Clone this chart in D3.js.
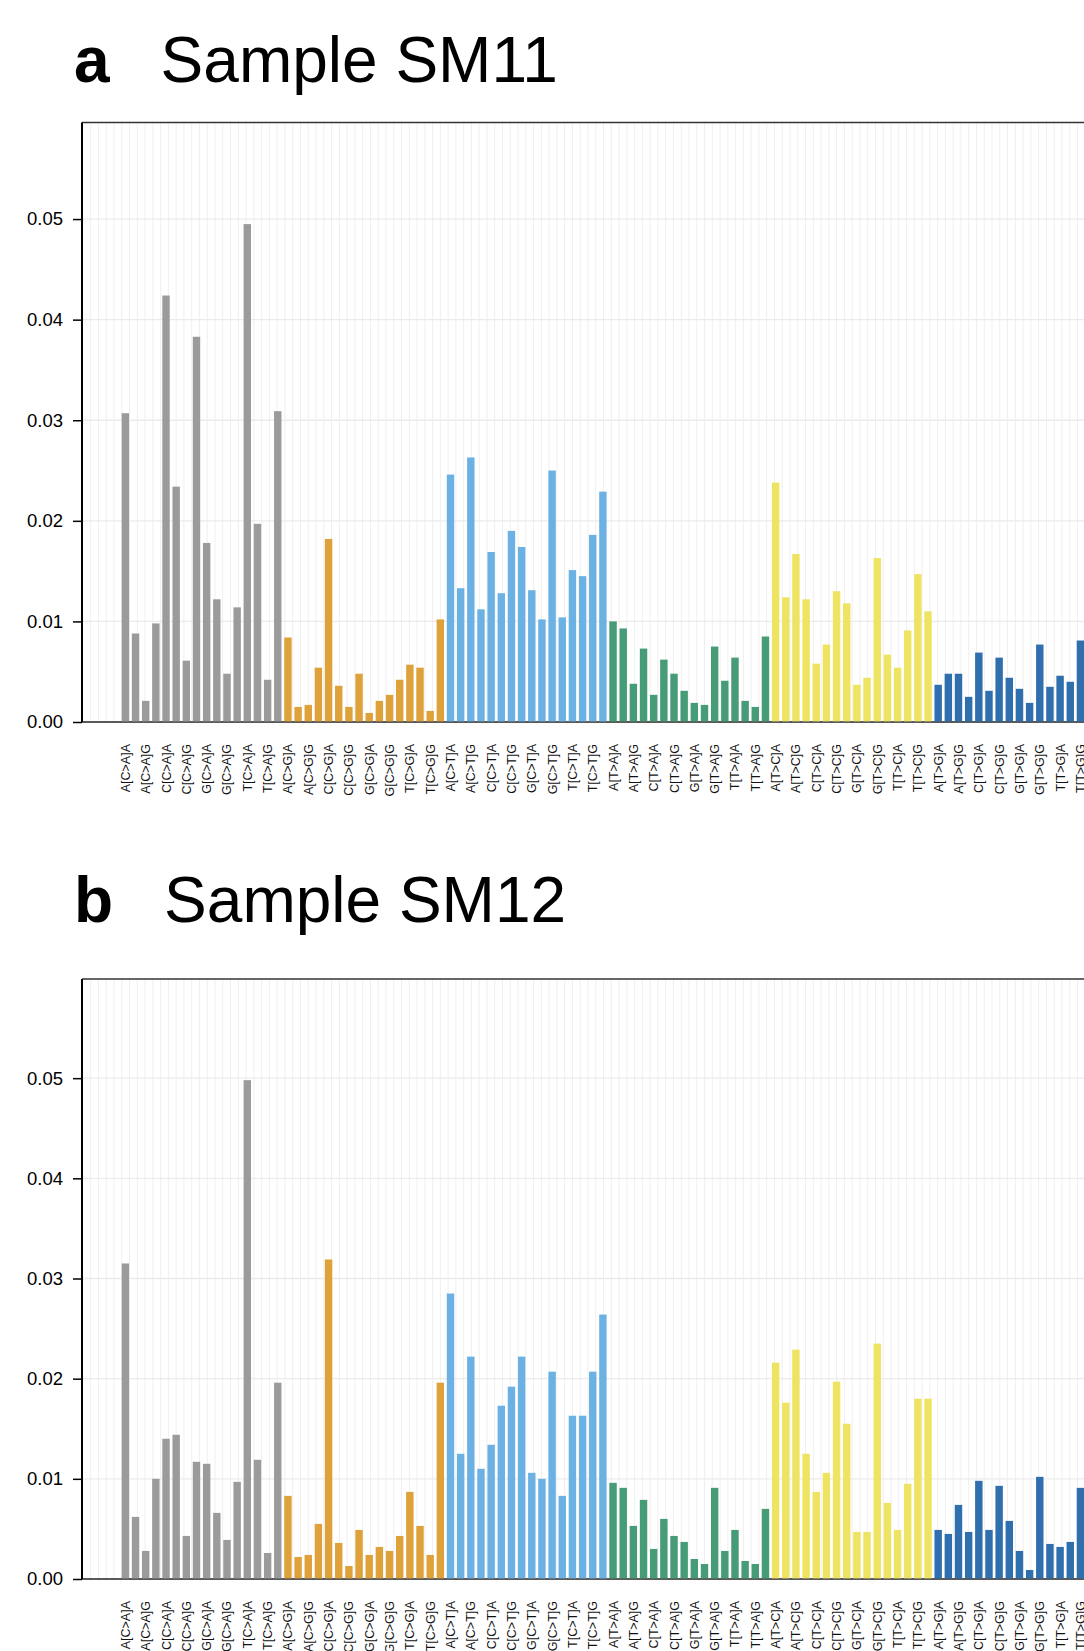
<!DOCTYPE html>
<html>
<head>
<meta charset="utf-8">
<script src="https://cdn.jsdelivr.net/npm/d3@7"></script>
<style>
  body { margin: 0; overflow: hidden; background: #fff; }
  text { font-family: "Liberation Sans", Arial, Helvetica, sans-serif; }
</style>
</head>
<body>
<svg id="chart" width="1084" height="1651"></svg>
<script>
// ---------- data ----------
const mutationTypes = ["C>A", "C>G", "C>T", "T>A", "T>C", "T>G"];
const bases = ["A", "C", "G", "T"];
const typeColors = ["#9b9b9b", "#dfa23a", "#6bb1e3", "#469c76", "#eee462", "#2f6fae"];
const categories = [];
mutationTypes.forEach(m => bases.forEach(b5 => bases.forEach(b3 => categories.push(`${b5}[${m}]${b3}`))));

const yTickValues = [0.00, 0.01, 0.02, 0.03, 0.04, 0.05];

const sm11 = [
  0.0307,0.0088,0.0021,0.0098,0.0424,0.0234,0.0061,0.0383,0.0178,0.0122,0.0048,0.0114,0.0495,0.0197,0.0042,0.0309,
  0.0084,0.0015,0.0017,0.0054,0.0182,0.0036,0.0015,0.0048,0.0009,0.0021,0.0027,0.0042,0.0057,0.0054,0.0011,0.0102,
  0.0246,0.0133,0.0263,0.0112,0.0169,0.0128,0.0190,0.0174,0.0131,0.0102,0.0250,0.0104,0.0151,0.0145,0.0186,0.0229,
  0.0100,0.0093,0.0038,0.0073,0.0027,0.0062,0.0048,0.0031,0.0019,0.0017,0.0075,0.0041,0.0064,0.0021,0.0015,0.0085,
  0.0238,0.0124,0.0167,0.0122,0.0058,0.0077,0.0130,0.0118,0.0037,0.0044,0.0163,0.0067,0.0054,0.0091,0.0147,0.0110,
  0.0037,0.0048,0.0048,0.0025,0.0069,0.0031,0.0064,0.0044,0.0033,0.0019,0.0077,0.0035,0.0046,0.0040,0.0081,0.0050
];
const sm12 = [
  0.0315,0.0062,0.0028,0.0100,0.0140,0.0144,0.0043,0.0117,0.0115,0.0066,0.0039,0.0097,0.0498,0.0119,0.0026,0.0196,
  0.0083,0.0022,0.0024,0.0055,0.0319,0.0036,0.0013,0.0049,0.0024,0.0032,0.0028,0.0043,0.0087,0.0053,0.0024,0.0196,
  0.0285,0.0125,0.0222,0.0110,0.0134,0.0173,0.0192,0.0222,0.0106,0.0100,0.0207,0.0083,0.0163,0.0163,0.0207,0.0264,
  0.0096,0.0091,0.0053,0.0079,0.0030,0.0060,0.0043,0.0037,0.0020,0.0015,0.0091,0.0028,0.0049,0.0018,0.0015,0.0070,
  0.0216,0.0176,0.0229,0.0125,0.0087,0.0106,0.0197,0.0155,0.0047,0.0047,0.0235,0.0076,0.0049,0.0095,0.0180,0.0180,
  0.0049,0.0045,0.0074,0.0047,0.0098,0.0049,0.0093,0.0058,0.0028,0.0009,0.0102,0.0035,0.0032,0.0037,0.0091,0.0060
];

const panels = [
  { letter: "a", title: "Sample SM11", values: sm11, titleY: 82,  top: 122.5, zero: 722,  yMax: 0.0596 },
  { letter: "b", title: "Sample SM12", values: sm12, titleY: 922, top: 979,   zero: 1579, yMax: 0.0599 }
];

// ---------- layout ----------
const plotLeft = 82;
const plotRight = 1140;   // plot continues past the window edge (cropped)
const barStart = 120.3, barStep = 10.16;
const gridStart = 90.7, gridStep = 7.77;

const svg = d3.select("#chart");

panels.forEach(p => {
  const g = svg.append("g");

  // title
  const t = g.append("text").attr("x", 74).attr("y", p.titleY)
    .attr("font-size", 64).attr("fill", "#000");
  t.append("tspan").attr("font-weight", "bold").text(p.letter);
  t.append("tspan").attr("dx", 51).text(p.title);

  const x = d3.scaleBand().domain(categories)
    .range([barStart, barStart + barStep * categories.length])
    .paddingInner(0.27).paddingOuter(0.135);
  const y = d3.scaleLinear().domain([0, p.yMax]).range([p.zero, p.top]);

  // vertical grid
  const nGrid = Math.ceil((plotRight - gridStart) / gridStep);
  const gx = d3.scaleLinear().domain([0, nGrid]).range([gridStart, gridStart + nGrid * gridStep]);
  g.append("g").selectAll("line").data(d3.range(nGrid)).join("line")
    .attr("x1", d => gx(d)).attr("x2", d => gx(d))
    .attr("y1", p.top).attr("y2", p.zero)
    .attr("stroke", "#efefef").attr("stroke-width", 1);

  // horizontal grid
  g.append("g").selectAll("line").data(yTickValues.slice(1)).join("line")
    .attr("x1", plotLeft).attr("x2", plotRight)
    .attr("y1", d => y(d)).attr("y2", d => y(d))
    .attr("stroke", "#ebebeb").attr("stroke-width", 1.3);

  // frame top
  g.append("line").attr("x1", plotLeft).attr("x2", plotRight)
    .attr("y1", p.top).attr("y2", p.top)
    .attr("stroke", "#333").attr("stroke-width", 1.5);

  // baseline
  g.append("line").attr("x1", plotLeft).attr("x2", plotRight)
    .attr("y1", p.zero).attr("y2", p.zero)
    .attr("stroke", "#222").attr("stroke-width", 1.6);

  // bars
  g.append("g").selectAll("rect").data(categories).join("rect")
    .attr("x", d => x(d))
    .attr("width", x.bandwidth())
    .attr("y", (d, i) => y(p.values[i]))
    .attr("height", (d, i) => y(0) - y(p.values[i]) - 0.6)
    .attr("fill", (d, i) => typeColors[Math.floor(i / 16)]);

  // y axis
  const ax = g.append("g").attr("transform", `translate(${plotLeft},0)`)
    .call(d3.axisLeft(y).tickValues(yTickValues).tickFormat(d3.format(".2f"))
      .tickSize(9).tickSizeOuter(0).tickPadding(10));
  ax.select(".domain").attr("stroke", "#000").attr("stroke-width", 2)
    .attr("d", `M0,${p.top}V${p.zero}`);
  ax.selectAll(".tick line").attr("stroke", "#000").attr("stroke-width", 1.5);
  ax.selectAll(".tick text").attr("font-size", 18.5).attr("fill", "#000")
    .attr("font-family", '"Liberation Sans", Arial, Helvetica, sans-serif');

  // x labels (every other category)
  g.append("g").selectAll("text").data(categories.filter((d, i) => i % 2 === 0)).join("text")
    .attr("transform", d => `translate(${x(d) + x.bandwidth() / 2},${p.zero + 22}) rotate(-90)`)
    .attr("text-anchor", "end")
    .attr("dy", "0.36em")
    .attr("font-size", 12.5)
    .attr("fill", "#111")
    .text(d => d);
});
</script>
</body>
</html>
